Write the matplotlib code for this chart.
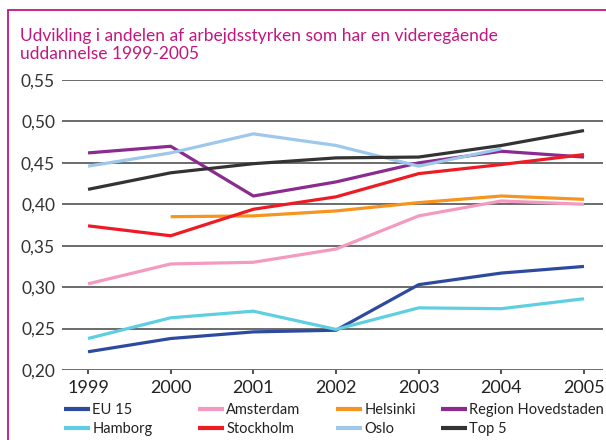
import numpy as np
import matplotlib
matplotlib.use("Agg")
import matplotlib.pyplot as plt
from matplotlib.patches import Rectangle

plt.rcParams['font.family'] = ['Lato', 'DejaVu Sans']

years = [1999, 2000, 2001, 2002, 2003, 2004, 2005]
nan = np.nan
eu15 = [0.222, 0.238, 0.246, 0.248, 0.303, 0.317, 0.325]
amsterdam = [0.304, 0.328, 0.330, 0.346, 0.386, 0.404, 0.400]
helsinki = [nan, 0.385, 0.386, 0.392, 0.402, 0.410, 0.406]
region_h = [0.462, 0.470, 0.410, 0.427, 0.450, 0.464, 0.457]
hamborg = [0.238, 0.263, 0.271, 0.249, 0.275, 0.274, 0.286]
stockholm = [0.374, 0.362, 0.394, 0.409, 0.437, 0.448, 0.460]
oslo = [0.446, 0.462, 0.485, 0.471, 0.446, 0.467, nan]
top5 = [0.418, 0.438, 0.449, 0.456, 0.457, 0.471, 0.489]

series = [
    ("EU 15", eu15, "#2E4A9E"),
    ("Amsterdam", amsterdam, "#F49AC1"),
    ("Helsinki", helsinki, "#F7941D"),
    ("Region Hovedstaden", region_h, "#8B2A8F"),
    ("Hamborg", hamborg, "#5ECFE0"),
    ("Stockholm", stockholm, "#ED1C24"),
    ("Oslo", oslo, "#9DC8EB"),
    ("Top 5", top5, "#333333"),
]
yticks = [0.20, 0.25, 0.30, 0.35, 0.40, 0.45, 0.50, 0.55]
ytick_labels = ["0,20", "0,25", "0,30", "0,35", "0,40", "0,45", "0,50", "0,55"]
title = "Udvikling i andelen af arbejdsstyrken som har en videregående\nuddannelse 1999-2005"

W, H = 606, 440
fig = plt.figure(figsize=(W / 100, H / 100), dpi=100)
ax = fig.add_axes([62 / W, 1 - 370 / H, (603 - 62) / W, (370 - 80) / H])

lines = {}
for name, vals, col in series:
    ln, = ax.plot(years, vals, color=col, lw=2.3, solid_capstyle='butt', zorder=3)
    lines[name] = ln

ax.set_xlim(1998.685, 2005.23)
ax.set_ylim(0.20, 0.55)
ax.set_yticks(yticks)
ax.set_yticklabels(ytick_labels)
ax.set_xticks(years)
ax.set_xticklabels([str(y) for y in years])
for s in ax.spines.values():
    s.set_visible(False)
ax.grid(axis='y', color='#444444', lw=1.1, zorder=1)
ax.tick_params(axis='y', length=0, pad=5, labelsize=12.5, labelcolor='#333333')
ax.tick_params(axis='x', length=3, width=1.5, color='#555555', pad=4,
               labelsize=13, labelcolor='#222222')

# title
fig.text(20 / W, 1 - 28 / H, title, color='#C2177F', fontsize=12.5,
         ha='left', va='top', linespacing=1.12)

# magenta frame
fig.patches.append(Rectangle((7.5 / W, -0.1), 1.2, (H - 10.5) / H + 0.1,
                             transform=fig.transFigure, fill=False,
                             edgecolor='#C2177F', lw=1.3))

# legend in four columns
cols = [(["EU 15", "Hamborg"], 64), (["Amsterdam", "Stockholm"], 198),
        (["Helsinki", "Oslo"], 336), (["Region Hovedstaden", "Top 5"], 441)]
for names, xpix in cols:
    leg = fig.legend([lines[n] for n in names], names, loc='upper left',
                     bbox_to_anchor=(xpix / W, 1 - 403 / H), frameon=False,
                     borderpad=0, borderaxespad=0, handlelength=1.75,
                     handletextpad=0.2, labelspacing=0.35, fontsize=10.5)
    for t in leg.get_texts():
        t.set_color('#222222')
    for l in leg.get_lines():
        l.set_linewidth(3)

fig.savefig("out.png", dpi=100)
